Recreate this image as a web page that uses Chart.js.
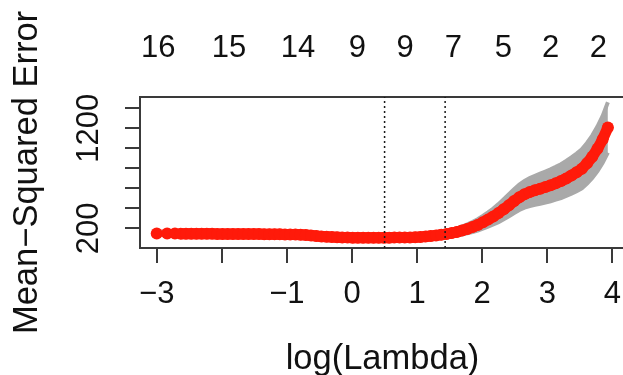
<!DOCTYPE html>
<html>
<head>
<meta charset="utf-8">
<script src="https://cdn.jsdelivr.net/npm/chart.js@4.4.1/dist/chart.umd.min.js"></script>
<style>
  html, body { margin: 0; padding: 0; background: #fff; overflow: hidden; }
  #wrap { width: 625px; height: 375px; }
</style>
</head>
<body>
<div id="wrap"><canvas id="cv" width="625" height="375"></canvas></div>
<script>
// log(lambda) grid, cv error and its standard error
const logLambda = [
  -3.00, -2.84, -2.72, -2.63, -2.55, -2.47, -2.39, -2.31, -2.23, -2.15,
  -2.07, -1.99, -1.91, -1.83, -1.75, -1.67, -1.59, -1.51, -1.43, -1.35,
  -1.27, -1.19, -1.11, -1.03, -0.95, -0.87, -0.79, -0.71, -0.63, -0.55,
  -0.47, -0.39, -0.31, -0.23, -0.15, -0.07, 0.01, 0.09, 0.17, 0.25,
  0.33, 0.41, 0.49, 0.57, 0.65, 0.73, 0.81, 0.89, 0.97, 1.05,
  1.13, 1.21, 1.29, 1.37, 1.45, 1.53, 1.61, 1.69, 1.77, 1.85,
  1.93, 2.01, 2.09, 2.17, 2.25, 2.33, 2.41, 2.49, 2.57, 2.65,
  2.73, 2.81, 2.89, 2.97, 3.05, 3.13, 3.21, 3.29, 3.37, 3.45,
  3.53, 3.61, 3.69, 3.77, 3.85, 3.93
];
const cvMean = [
  148, 147, 147, 146, 146, 146, 145, 145, 145, 145,
  144, 144, 144, 144, 143, 143, 143, 142, 142, 141,
  141, 140, 140, 139, 138, 137, 135, 132, 128, 123,
  119, 115, 112, 110, 108, 107, 106, 106, 106, 106,
  106, 106, 106, 106, 107, 107, 108, 109, 111, 114,
  118, 123, 129, 135, 142, 152, 164, 178, 194, 212,
  234, 260, 288, 318, 352, 390, 430, 472, 510, 540,
  562, 580, 596, 612, 630, 650, 672, 698, 728, 760,
  795, 850, 915, 995, 1090, 1208
];
const cvSd = [
  15, 14, 14, 13, 13, 13, 13, 12, 12, 12,
  12, 12, 12, 12, 12, 12, 12, 12, 12, 12,
  12, 12, 12, 12, 12, 12, 12, 12, 12, 12,
  12, 12, 12, 12, 12, 12, 12, 12, 12, 12,
  12, 12, 12, 12, 13, 13, 13, 13, 14, 14,
  16, 18, 20, 23, 27, 31, 35, 40, 45, 50,
  56, 63, 71, 80, 90, 100, 110, 119, 127, 134,
  140, 145, 150, 155, 159, 164, 169, 175, 181, 188,
  195, 203, 212, 222, 234, 252
];

// lambda.min and lambda.1se
const lambdaMarks = [0.50, 1.43];

// number of nonzero coefficients, top axis
const nzPos = [-2.975, -1.889, -0.83, 0.081, 0.814, 1.556, 2.324, 3.052, 3.783];
const nzLabels = ['16', '15', '14', '9', '9', '7', '5', '2', '2'];

const xTicks = [-3, -2, -1, 0, 1, 2, 3, 4];
const xTickLabels = ['\u22123', '', '\u22121', '0', '1', '2', '3', '4'];
const yTicks = [200, 400, 600, 800, 1000, 1200, 1400];
const yTickLabels = ['200', '', '', '', '', '1200', ''];

const X_MIN = -3.257, X_MAX = 4.193;
const Y_MIN = 3, Y_MAX = 1513;

const FONT = "'Liberation Sans', Arial, Helvetica, sans-serif";
const INK = '#111';
const LINE = '#3a3a3a';
const BAND = '#a9a9a9';
const RED = '#ff1a0a';

const points = logLambda.map((x, i) => ({ x: x, y: cvMean[i] }));
const upper = logLambda.map((x, i) => ({ x: x, y: cvMean[i] + cvSd[i] }));
const lower = logLambda.map((x, i) => ({ x: x, y: cvMean[i] - cvSd[i] }));

const vline = (x) => ({
    type: 'line',
    data: [{ x: x, y: Y_MIN }, { x: x, y: Y_MAX }],
    borderColor: '#1a1a1a',
    borderWidth: 1.5,
    borderDash: [2, 3],
    pointRadius: 0,
    fill: false,
    order: 0
});

function noPad(s) {
    s.paddingLeft = 0;
    s.paddingRight = 0;
    s.paddingTop = 0;
    s.paddingBottom = 0;
}

new Chart(document.getElementById('cv'), {
    type: 'scatter',
    data: {
        datasets: [
            vline(lambdaMarks[0]),
            vline(lambdaMarks[1]),
            {
                // red cv points; a thick stroke through them keeps the band solid
                // (first few points stay as separate dots like the original)
                data: points,
                pointRadius: 6,
                pointBackgroundColor: RED,
                pointBorderWidth: 0,
                showLine: true,
                borderColor: RED,
                borderWidth: 11,
                borderCapStyle: 'round',
                borderJoinStyle: 'round',
                segment: {
                    borderColor: (ctx) => ctx.p0DataIndex < 3 ? 'rgba(0,0,0,0)' : RED
                },
                order: 1
            },
            {
                type: 'line',
                data: upper,
                borderColor: BAND,
                borderWidth: 4,
                backgroundColor: BAND,
                pointRadius: 0,
                fill: '+1',
                order: 2
            },
            {
                type: 'line',
                data: lower,
                borderColor: BAND,
                borderWidth: 4,
                pointRadius: 0,
                fill: false,
                order: 3
            }
        ]
    },
    options: {
        responsive: false,
        animation: false,
        events: [],
        layout: { padding: 0, autoPadding: false },
        plugins: {
            legend: { display: false },
            tooltip: { enabled: false }
        },
        scales: {
            x: {
                type: 'linear',
                position: 'bottom',
                min: X_MIN,
                max: X_MAX,
                afterBuildTicks: (s) => { s.ticks = xTicks.map(v => ({ value: v })); },
                afterFit: (s) => { s.height = 127; noPad(s); },
                ticks: {
                    autoSkip: false,
                    maxRotation: 0,
                    padding: 13,
                    color: INK,
                    font: { family: FONT, size: 31 },
                    callback: (v, i) => xTickLabels[i]
                },
                grid: { drawOnChartArea: false, tickLength: 15, color: LINE, lineWidth: 2 },
                border: { color: LINE, width: 2 },
                title: {
                    display: true,
                    text: 'log(Lambda)',
                    color: INK,
                    font: { family: FONT, size: 34.5, lineHeight: 0.9 },
                    padding: { top: 0, bottom: 0 }
                }
            },
            xTop: {
                type: 'linear',
                position: 'top',
                min: X_MIN,
                max: X_MAX,
                afterBuildTicks: (s) => { s.ticks = nzPos.map(v => ({ value: v })); },
                afterFit: (s) => { s.height = 97; noPad(s); },
                ticks: {
                    autoSkip: false,
                    maxRotation: 0,
                    padding: 30,
                    color: INK,
                    font: { family: FONT, size: 31 },
                    callback: (v, i) => nzLabels[i]
                },
                grid: { display: true, drawOnChartArea: false, drawTicks: false },
                border: { color: LINE, width: 2 }
            },
            y: {
                type: 'linear',
                position: 'left',
                min: Y_MIN,
                max: Y_MAX,
                afterBuildTicks: (s) => { s.ticks = yTicks.map(v => ({ value: v })); },
                afterFit: (s) => { s.width = 140; noPad(s); },
                ticks: {
                    autoSkip: false,
                    minRotation: 90,
                    maxRotation: 90,
                    crossAlign: 'center',
                    padding: 1.5,
                    color: INK,
                    font: { family: FONT, size: 31 },
                    callback: (v, i) => yTickLabels[i]
                },
                grid: { drawOnChartArea: false, tickLength: 15, color: LINE, lineWidth: 2 },
                border: { color: LINE, width: 2 },
                title: {
                    display: true,
                    text: 'Mean\u2212Squared Error',
                    color: INK,
                    font: { family: FONT, size: 34.5, lineHeight: 0.9 },
                    padding: { top: 11.5, bottom: 0 }
                }
            }
        }
    }
});
</script>
</body>
</html>
